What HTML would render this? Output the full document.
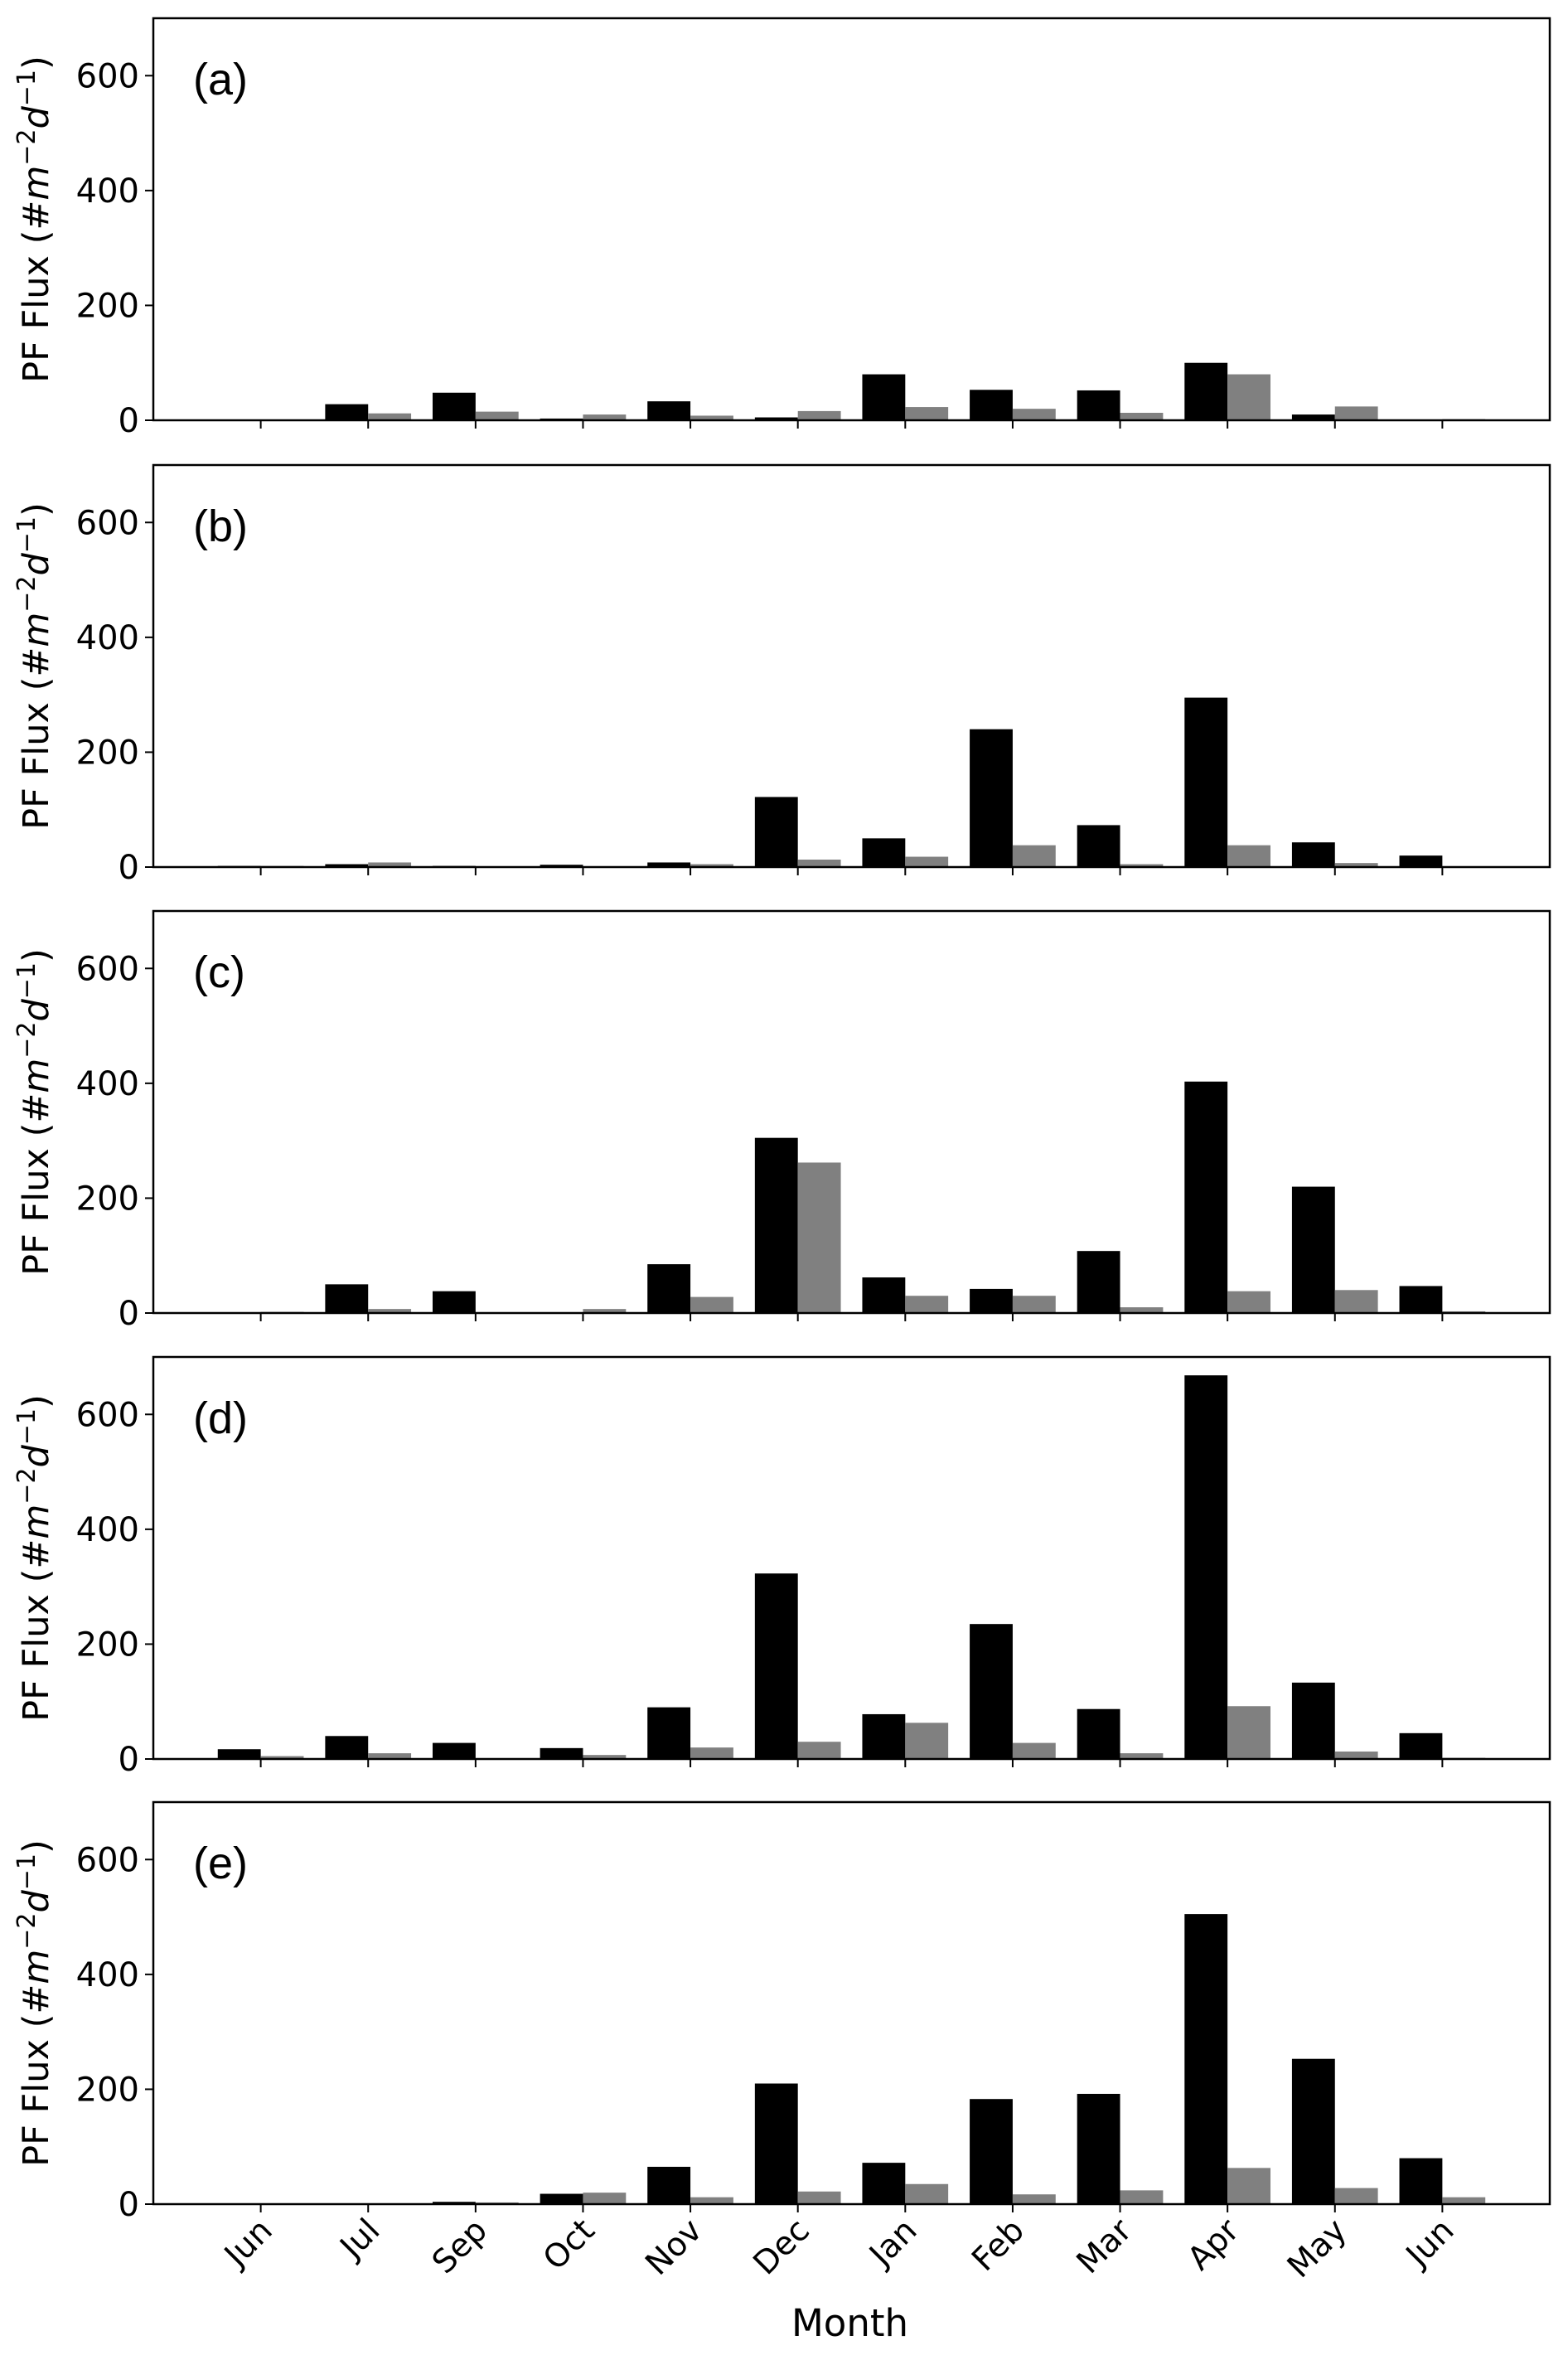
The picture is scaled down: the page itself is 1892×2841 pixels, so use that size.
<!DOCTYPE html>
<html><head><meta charset="utf-8">
<style>
html,body{margin:0;padding:0;background:#fff;}
svg{display:block;font-family:"DejaVu Sans","Liberation Sans",sans-serif;}
</style></head>
<body>
<svg id="chart" width="1892" height="2841" viewBox="0 0 1892 2841" xmlns="http://www.w3.org/2000/svg"></svg>
<script>
const months = ["Jun","Jul","Sep","Oct","Nov","Dec","Jan","Feb","Mar","Apr","May","Jun"];
const panelLabels = ["(a)","(b)","(c)","(d)","(e)"];
const yTicks = [0,200,400,600];
const blackA = [0,28,48,3,33,5,80,53,52,100,10,1];
const grayA  = [0,12,15,10,8,16,23,20,13,80,24,2];
const blackB = [2,5,2,4,8,122,50,240,73,295,43,20];
const grayB  = [2,8,1,1,5,13,18,38,5,38,7,0];
const blackC = [1,50,38,1,85,305,62,42,108,403,220,47];
const grayC  = [2,7,1,7,28,262,30,30,10,38,40,3];
const blackD = [17,40,28,19,90,323,78,235,87,668,133,45];
const grayD  = [5,10,0,7,20,30,63,28,10,92,13,2];
const blackE = [0,0,4,18,65,210,72,183,192,505,253,80];
const grayE  = [0,0,3,20,12,22,35,17,24,63,28,12];

const blackSeries = [blackA,blackB,blackC,blackD,blackE];
const graySeries = [grayA,grayB,grayC,grayD,grayE];

const NS = "http://www.w3.org/2000/svg";
const svg = document.getElementById("chart");
const L = 185, R = 1870, H = 485;
const tops = [22,561,1099,1637,2174];
const xmin = -1, xmax = 12, ymax = 700;
const barW = 0.4;
function xs(v){ return L + (v - xmin) / (xmax - xmin) * (R - L); }
function mk(tag, attrs, parent){
  const e = document.createElementNS(NS, tag);
  for (const k in attrs) e.setAttribute(k, attrs[k]);
  (parent || svg).appendChild(e);
  return e;
}

panelLabels.forEach((lab, p) => {
  const top = tops[p], bot = top + H;
  const ys = v => bot - v / ymax * H;
  const g = mk("g", {});
  
  

  blackSeries[p].forEach((v, i) => {
    const r = mk("rect", {x: xs(i - barW), y: ys(v), width: xs(barW) - xs(0), height: bot - ys(v), fill: "#000"}, g);
    
    
  });
  graySeries[p].forEach((v, i) => {
    const r = mk("rect", {x: xs(i), y: ys(v), width: xs(barW) - xs(0), height: bot - ys(v), fill: "#808080"}, g);
    
    
  });

  const frame = mk("rect", {x: L, y: top, width: R - L, height: H, fill: "none", stroke: "#000", "stroke-width": 2.5}, g);
  
  

  yTicks.forEach(t => {
    mk("line", {x1: L - 10, x2: L, y1: ys(t), y2: ys(t), stroke: "#000", "stroke-width": 2}, g);
    const tx = mk("text", {x: L - 17, y: ys(t) + 14, "text-anchor": "end", "font-size": 40}, g);
    tx.textContent = t;
    
    
  });
  months.forEach((m, i) => {
    mk("line", {x1: xs(i), x2: xs(i), y1: bot, y2: bot + 10, stroke: "#000", "stroke-width": 2}, g);
  });

  const yl = mk("text", {x: 0, y: 0, "text-anchor": "middle", "font-size": 43,
    transform: "translate(58," + (top + H/2) + ") rotate(-90)"}, g);
  yl.innerHTML = 'PF Flux (#<tspan font-style="italic">m</tspan><tspan dy="-16" font-size="30">−2</tspan><tspan dy="16" font-style="italic">d</tspan><tspan dy="-16" font-size="30">−1</tspan><tspan dy="16">)</tspan>';
  
  

  const pl = mk("text", {x: 233, y: top + 92, "font-size": 54, "font-family": "Liberation Sans, sans-serif"}, g);
  pl.textContent = lab;
  
  

  if (p === 4) {
    months.forEach((m, i) => {
      const t = mk("text", {x: 0, y: 0, "text-anchor": "end", "font-size": 39,
        transform: "translate(" + (xs(i) + 16) + "," + (bot + 34) + ") rotate(-45)"}, g);
      t.textContent = m;
      
      
    });
  }
});
const xt = mk("text", {x: (L + R) / 2 - 2, y: 2818, "text-anchor": "middle", "font-size": 45});
xt.textContent = "Month";


</script>
</body></html>
